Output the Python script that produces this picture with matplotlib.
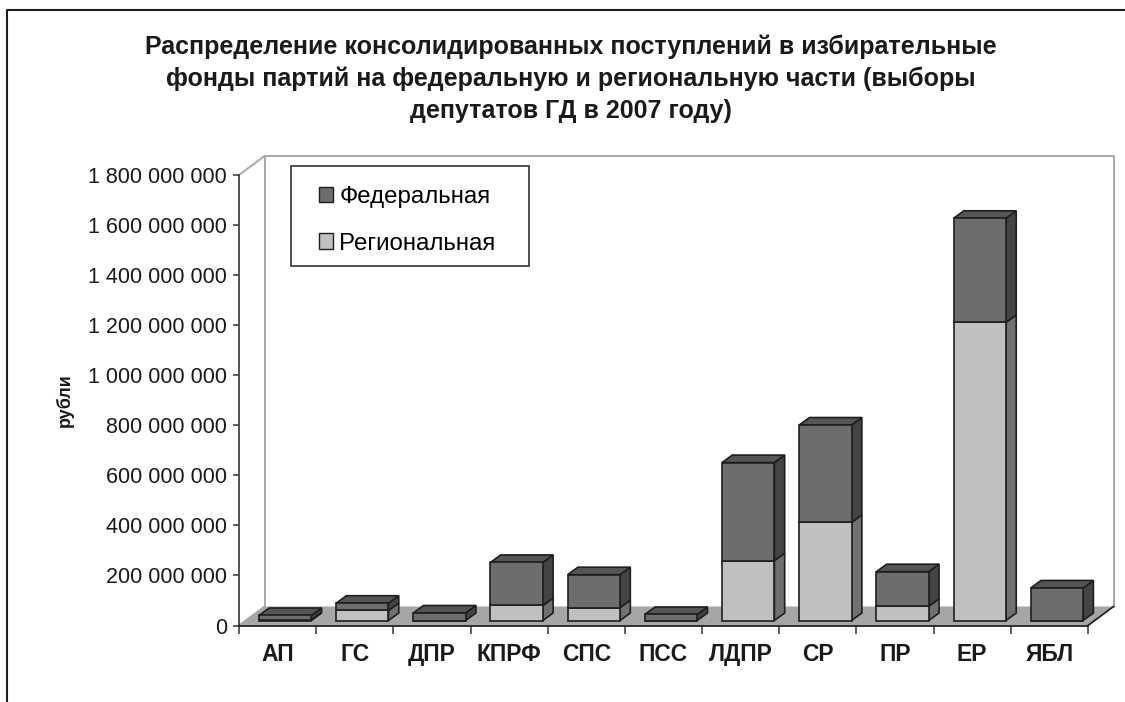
import matplotlib
matplotlib.use("Agg")
import matplotlib.pyplot as plt
from matplotlib.patches import Polygon, Rectangle, Patch
from matplotlib.lines import Line2D
import numpy as np

plt.rcParams['font.family'] = ['Liberation Sans', 'DejaVu Sans']

# ---- data ----
categories = ['АП', 'ГС', 'ДПР', 'КПРФ', 'СПС', 'ПСС', 'ЛДПР', 'СР', 'ПР', 'ЕР', 'ЯБЛ']
regional = [3e6, 40e6, 0, 60e6, 51e6, 0, 239e6, 392e6, 57e6, 1191e6, 0]
federal = [17e6, 29e6, 30e6, 172e6, 132e6, 24e6, 392e6, 389e6, 138e6, 416e6, 130e6]
series_names = ['Федеральная', 'Региональная']
yticks = np.arange(0, 1.8e9 + 1, 2e8)
title_lines = ['Распределение консолидированных поступлений в избирательные',
               'фонды партий на федеральную и региональную части (выборы',
               'депутатов ГД в 2007 году)']
ylabel = 'рубли'

# ---- styles ----
W, H = 1125, 702
fig = plt.figure(figsize=(W / 100, H / 100), dpi=100)
fig.patch.set_facecolor('white')

x0, x1, y0, y1 = 239, 1088, 625.5, 175
ax = fig.add_axes([x0 / W, 1 - y0 / H, (x1 - x0) / W, (y0 - y1) / H])
ax.set_xlim(-0.5, len(categories) - 0.5)
ax.set_ylim(0, 1.8e9)
ax.patch.set_alpha(0)

PXX = len(categories) / (x1 - x0)     # category units per pixel
PXY = 1.8e9 / (y0 - y1)               # value units per pixel

FDX, FDY = 25.5 * PXX, 19.0 * PXY     # floor depth
BOX, BOY = 7.5 * PXX, 5.0 * PXY       # bar front offset
BDX, BDY = 10.3 * PXX, 7.5 * PXY      # bar depth
BW = 52.4 / 77.2                      # bar width

fed_front, fed_top, fed_side = '#6d6d6d', '#555555', '#444444'
reg_front, reg_top, reg_side = '#c0c0c0', '#a8a8a8', '#707070'
edge = '#1e1e1e'
wall_col = '#a8a8a8'

xl, xr = -0.5, len(categories) - 0.5
# floor
ax.add_patch(Polygon([(xl, 0), (xr, 0), (xr + FDX, FDY), (xl + FDX, FDY)],
                     closed=True, facecolor='#a6a6a6', edgecolor='none',
                     clip_on=False, zorder=1))
# walls
wl = dict(color=wall_col, lw=1.4, clip_on=False, zorder=1.5)
ax.plot([xl + FDX, xl + FDX, xr + FDX, xr + FDX],
        [FDY, 1.8e9 + FDY, 1.8e9 + FDY, FDY], **wl)
ax.plot([xl, xl + FDX], [1.8e9, 1.8e9 + FDY], **wl)
ax.plot([xl, xl + FDX], [0, FDY], **wl)
# floor right edge
ax.plot([xr, xr + FDX], [0, FDY], color='#222222', lw=1.3, clip_on=False, zorder=2)

xs = np.arange(len(categories))
reg = np.array(regional)
fed = np.array(federal)

def faces(i, bottom, height, top, side, is_top):
    l = xs[i] - BW / 2 + BOX
    r = l + BW
    b = BOY + bottom
    t = b + height
    ax.add_patch(Polygon([(r, b), (r + BDX, b + BDY), (r + BDX, t + BDY), (r, t)],
                         closed=True, facecolor=side, edgecolor=edge, lw=1.2,
                         clip_on=False, zorder=3))
    if is_top:
        ax.add_patch(Polygon([(l, t), (l + BDX, t + BDY), (r + BDX, t + BDY), (r, t)],
                             closed=True, facecolor=top, edgecolor=edge, lw=1.2,
                             clip_on=False, zorder=3))

for i in range(len(categories)):
    if reg[i] > 0:
        faces(i, 0, reg[i], reg_top, reg_side, fed[i] <= 0)
    if fed[i] > 0:
        faces(i, reg[i], fed[i], fed_top, fed_side, True)

ax.bar(xs + BOX, reg, width=BW, bottom=BOY, color=reg_front, edgecolor=edge,
       lw=1.2, zorder=4, clip_on=False)
ax.bar(xs + BOX, fed, width=BW, bottom=BOY + reg, color=fed_front, edgecolor=edge,
       lw=1.2, zorder=4, clip_on=False)

# axes
for s in ['top', 'right']:
    ax.spines[s].set_visible(False)
ax.spines['left'].set_color('#333333')
ax.spines['bottom'].set_color('#222222')
ax.spines['left'].set_linewidth(1.2)
ax.spines['bottom'].set_linewidth(1.3)
ax.spines['left'].set_zorder(2)
ax.spines['bottom'].set_zorder(2)

ax.set_yticks(yticks)
ax.set_yticklabels([f"{int(v):,}".replace(',', ' ') for v in yticks],
                   fontsize=15.5, color='#1a1a1a')
ax.tick_params(axis='y', direction='out', length=4.5, width=1.1, pad=4, color='#333333')

ax.set_xticks(xs)
ax.set_xticklabels(categories, fontsize=16.5, fontweight='bold', color='#1a1a1a')
ax.tick_params(axis='x', which='major', length=0, pad=12.5)
ax.set_xticks(np.arange(-0.5, len(categories) + 0.5, 1.0), minor=True)
ax.tick_params(axis='x', which='minor', direction='out', length=5.5, width=1.1,
               color='#333333')

fig.text(65 / W, 1 - 400 / H, ylabel, rotation=90, ha='center', va='center',
         fontsize=13, fontweight='bold', color='#1a1a1a')

for yy, line in zip([47, 79, 111], title_lines):
    fig.text(571 / W, 1 - yy / H, line, ha='center', va='center',
             fontsize=18, fontweight='bold', color='#1a1a1a')

# legend
lx0, ly0, lx1, ly1 = 291, 166, 529, 266
ax.add_patch(Rectangle((lx0 / W, 1 - ly1 / H), (lx1 - lx0) / W, (ly1 - ly0) / H,
                       transform=fig.transFigure, facecolor='white',
                       edgecolor='#1e1e1e', lw=1.1, zorder=5, clip_on=False))
handles = [Patch(facecolor=fed_front, edgecolor=edge, lw=1.0),
           Patch(facecolor=reg_front, edgecolor=edge, lw=1.0)]
leg = ax.legend(handles, series_names, loc='upper left',
                bbox_to_anchor=(319 / W, 1 - 186 / H), bbox_transform=fig.transFigure,
                frameon=False, fontsize=17.3, handlelength=0.6, handleheight=0.6,
                handletextpad=0.25, labelspacing=1.02, borderaxespad=0, borderpad=0)
leg.set_zorder(6)

# figure frame
fig.add_artist(Line2D([7 / W, 7 / W, 1.0], [0.0, 1 - 10 / H, 1 - 10 / H],
                      transform=fig.transFigure, color='#1e1e1e', lw=1.5))

fig.savefig('out.png', dpi=100)
